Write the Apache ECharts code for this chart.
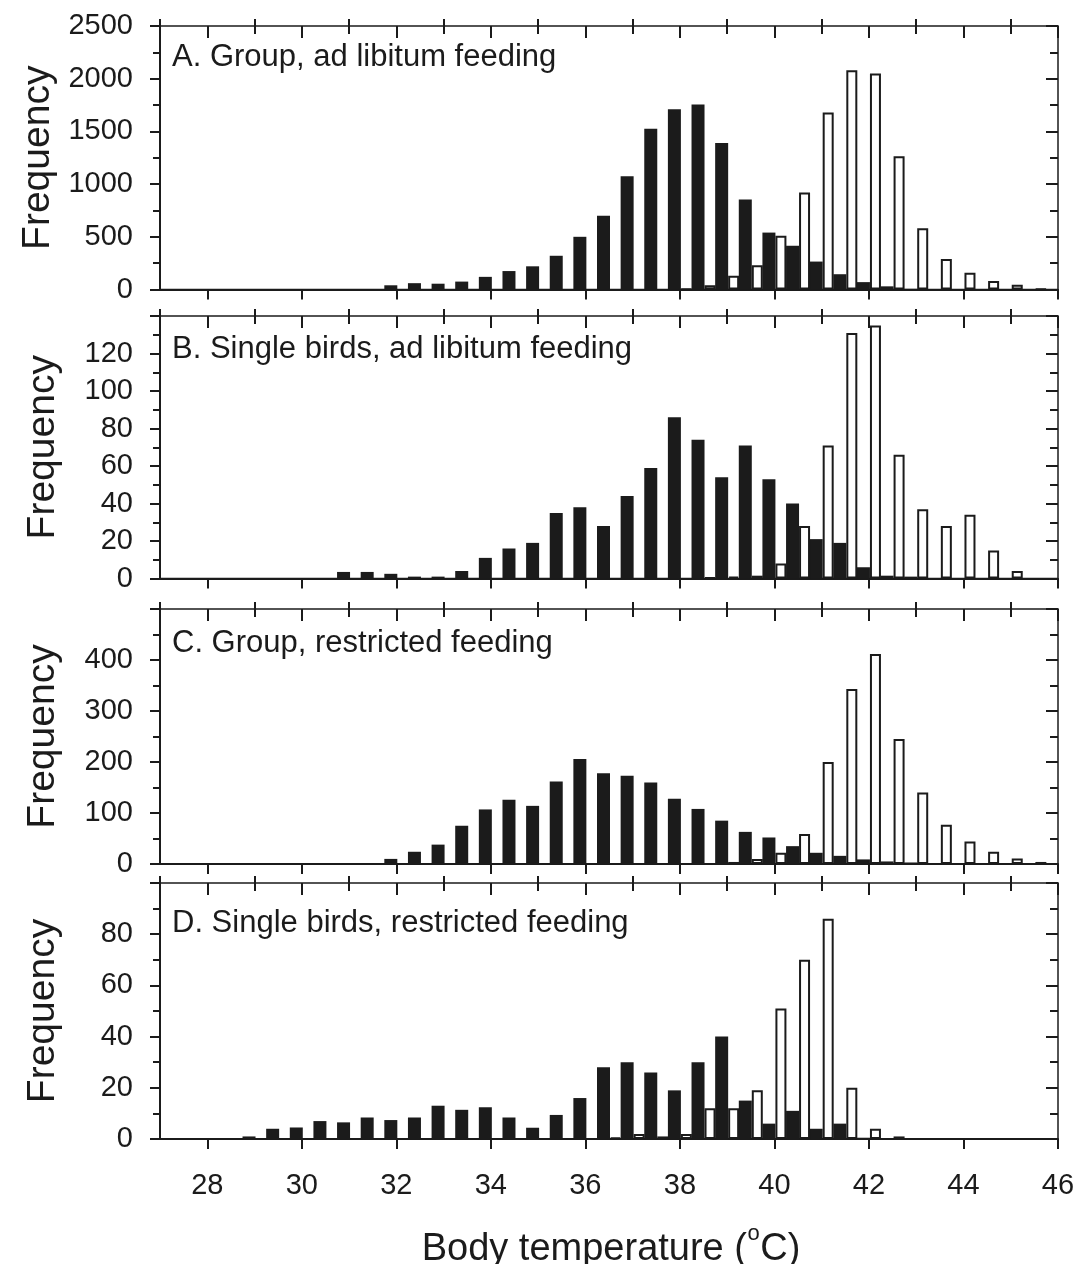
<!DOCTYPE html>
<html><head><meta charset="utf-8">
<script src="https://cdn.jsdelivr.net/npm/echarts@6/dist/echarts.min.js"></script>
<style>html,body{margin:0;padding:0;background:#fff}#c{width:1078px;height:1264px}</style>
</head><body><div id="c"></div>
<script>
// ---- data ----
const bins = [27,27.5,28,28.5,29,29.5,30,30.5,31,31.5,32,32.5,33,33.5,34,34.5,35,35.5,36,36.5,37,37.5,38,38.5,39,39.5,40,40.5,41,41.5,42,42.5,43,43.5,44,44.5,45,45.5,46];
const xTickLabels = [28,30,32,34,36,38,40,42,44,46];
const xMinorTicks = [27,29,31,33,35,37,39,41,43,45];
const panelTitles = ['A. Group, ad libitum feeding','B. Single birds, ad libitum feeding','C. Group, restricted feeding','D. Single birds, restricted feeding'];
const yMaxes = [2500,140,500,100];
const yLabelSteps = [500,20,100,20];
//            27  .5  28  .5  29  .5  30  .5  31  .5  32  .5  33  .5  34  .5  35  .5  36  .5  37  .5  38  .5  39  .5  40  .5  41  .5  42  .5  43  .5  44  .5  45  .5  46
const groupAdlibDark  = [0,0,0,0,0,0,3,3,3,3,40,60,55,75,120,175,220,320,500,700,1075,1525,1710,1755,1390,855,540,415,265,145,70,30,6,0,0,0,0,0,0];
const groupAdlibLight = [0,0,0,0,0,0,0,0,0,0,0,0,0,0,0,0,0,0,0,0,0,0,5,40,130,230,510,920,1680,2080,2050,1265,580,290,160,80,45,5,0];
const singleAdlibDark  = [0,0,0,0,0,0,0,0,3.5,3.5,2.5,1,1,4,11,16,19,35,38,28,44,59,86,74,54,71,53,40,21,19,6,1.5,1,0,0,0,0,0,0];
const singleAdlibLight = [0,0,0,0,0,0,0,0,0,0,0,0,0,0,0,0,0,0,0,0,0,0,0,0.5,1,1.5,8,28,71,131,135,66,37,28,34,15,4,0,0];
const groupRestrDark  = [0,0,0,0,0,0,0,0,0,1,10,24,38,75,107,126,114,162,206,178,173,160,128,108,85,63,52,35,22,16,9,5,3,1,0,0,0,0,0];
const groupRestrLight = [0,0,0,0,0,0,0,0,0,0,0,0,0,0,0,0,0,0,0,0,0,0,0,0,4,10,22,59,200,343,412,245,140,77,44,24,11,4,0];
const singleRestrDark  = [0,0,0,0,1,4,4.5,7,6.5,8.4,7.4,8.4,13,11.4,12.4,8.4,4.4,9.4,16,28,30,26,19,30,40,15,6,11,4,6,0.5,0,0,0,0,0,0,0,0];
const singleRestrLight = [0,0,0,0,0,0,0,0,0,0,0,0,0,0,0,0,0,0,0,0.5,2,1,2,12,12,19,51,70,86,20,4,1,0,0,0,0,0,0,0];

const darkSets = [groupAdlibDark, singleAdlibDark, groupRestrDark, singleRestrDark];
const lightSets = [groupAdlibLight, singleAdlibLight, groupRestrLight, singleRestrLight];

// ---- layout ----
const INK = '#1b1b1b';
const FONT = '"Liberation Sans", Arial, Helvetica, sans-serif';
const gridTops = [26, 316, 609, 883];
const gridHeights = [263.5, 262.5, 255, 256];
const titleY = [57, 349.5, 643, 923];

const grids = [], xAxes = [], yAxes = [], series = [], graphics = [];
const toPoint = (b, v) => [b, v === 0 ? null : v];
for (let g = 0; g < 4; g++) {
  grids.push({left: 160, width: 898, top: gridTops[g], height: gridHeights[g],
    show: true, borderColor: INK, borderWidth: 1.5, backgroundColor: 'transparent'});
  const isLast = g === 3;
  const xBase = {type: 'value', gridIndex: g, min: 27, max: 46, splitLine: {show: false}};
  const xDefs = [
    {vals: xTickLabels, inside: false, len: 10, main: true},
    {vals: xTickLabels, inside: true, len: 12},
    {vals: xMinorTicks, inside: false, len: 7},
    {vals: xMinorTicks, inside: true, len: 8}
  ];
  xDefs.forEach(d => {
    xAxes.push(Object.assign({}, xBase, {
      axisLine: {show: !!d.main, onZero: false, lineStyle: {color: INK, width: 2}},
      axisTick: {show: true, inside: d.inside, length: d.len, customValues: d.vals, lineStyle: {color: INK, width: 2}},
      axisLabel: (d.main && isLast) ? {show: true, customValues: xTickLabels, margin: 32, fontSize: 29, color: INK, fontFamily: FONT} : {show: false}
    }));
  });
  const ymax = yMaxes[g], step = yLabelSteps[g];
  const yBase = {type: 'value', gridIndex: g, min: 0, max: ymax, interval: step, splitLine: {show: false}};
  yAxes.push(Object.assign({}, yBase, {
    name: 'Frequency', nameLocation: 'middle', nameGap: 97,
    nameTextStyle: {fontSize: 39, color: INK, fontFamily: FONT},
    axisLine: {show: true, onZero: false, lineStyle: {color: INK, width: 2}},
    axisTick: {show: true, inside: false, length: 10, lineStyle: {color: INK, width: 2}},
    minorTick: {show: true, splitNumber: 2, length: 7, lineStyle: {color: INK, width: 2}},
    axisLabel: {show: true, margin: 27, fontSize: 29, color: INK, fontFamily: FONT,
      formatter: v => (g > 0 && v === ymax) ? '' : String(v)}
  }));
  yAxes.push(Object.assign({}, yBase, {
    axisLine: {show: false},
    axisTick: {show: true, inside: true, length: 12, lineStyle: {color: INK, width: 2}},
    minorTick: {show: true, splitNumber: 2, length: 8, lineStyle: {color: INK, width: 2}},
    axisLabel: {show: false}
  }));
  series.push({
    type: 'bar', xAxisIndex: g * 4, yAxisIndex: g * 2, barWidth: 13, barGap: '0%',
    itemStyle: {color: INK}, silent: true,
    data: bins.map((b, i) => toPoint(b, darkSets[g][i]))
  });
  series.push({
    type: 'bar', xAxisIndex: g * 4, yAxisIndex: g * 2, barWidth: 11, barGap: '0%',
    itemStyle: {color: '#ffffff', borderColor: INK, borderWidth: 2}, silent: true,
    data: bins.map((b, i) => toPoint(b, lightSets[g][i]))
  });
  graphics.push({type: 'text', x: 172, y: titleY[g], z: 100,
    style: {text: panelTitles[g], fontSize: 31, fontFamily: FONT, fill: INK, align: 'left', verticalAlign: 'middle'}});
}

// x-axis title with superscript degree "o"
const measure = (txt, size) => {
  const c = document.createElement('canvas').getContext('2d');
  c.font = size + 'px ' + FONT;
  return c.measureText(txt).width;
};
const xt1 = 'Body temperature (', xt2 = 'o', xt3 = 'C)';
const mainSize = 38, supSize = 22;
const w1 = measure(xt1, mainSize), w2 = measure(xt2, supSize), w3 = measure(xt3, mainSize);
const startX = 610.5 - (w1 + w2 + w3) / 2;
const titleMidY = 1250;
graphics.push({type: 'text', x: startX, y: titleMidY, z: 100,
  style: {text: xt1, fontSize: mainSize, fontFamily: FONT, fill: INK, align: 'left', verticalAlign: 'middle'}});
graphics.push({type: 'text', x: startX + w1 + 0.5, y: titleMidY - 16, z: 100,
  style: {text: xt2, fontSize: supSize, fontFamily: FONT, fill: INK, align: 'left', verticalAlign: 'middle'}});
graphics.push({type: 'text', x: startX + w1 + w2 + 1, y: titleMidY, z: 100,
  style: {text: xt3, fontSize: mainSize, fontFamily: FONT, fill: INK, align: 'left', verticalAlign: 'middle'}});

const chart = echarts.init(document.getElementById('c'), null, {renderer: 'canvas'});
chart.setOption({
  animation: false,
  backgroundColor: '#ffffff',
  grid: grids, xAxis: xAxes, yAxis: yAxes, series: series, graphic: graphics
});
</script></body></html>
